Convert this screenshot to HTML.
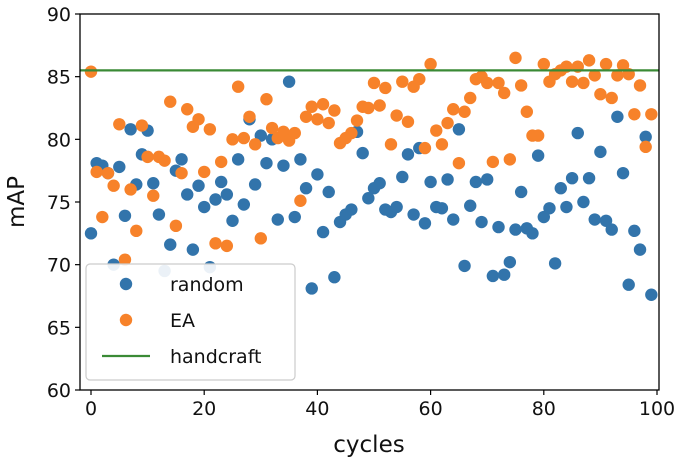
<!DOCTYPE html>
<html><head><meta charset="utf-8"><style>
body{margin:0;background:#fff}
svg text{font-family:"DejaVu Sans","Liberation Sans",sans-serif;fill:#111}
</style></head><body>
<svg id="chart" width="685" height="463" xmlns="http://www.w3.org/2000/svg">
<g id="plot"></g>
</svg>
<script>
const cycles=[...Array(100).keys()];
const randomVals=[72.5,78.1,77.9,77.3,70.0,77.8,73.9,80.8,76.4,78.8,80.7,76.5,74.0,69.5,71.6,77.5,78.4,75.6,71.2,76.3,74.6,69.8,75.2,76.6,75.6,73.5,78.4,74.8,81.6,76.4,80.3,78.1,80.0,73.6,77.9,84.6,73.8,78.4,76.1,68.1,77.2,72.6,75.8,69.0,73.4,74.0,74.4,80.6,78.9,75.3,76.1,76.5,74.4,74.2,74.6,77.0,78.8,74.0,79.3,73.3,76.6,74.6,74.5,76.8,73.6,80.8,69.9,74.7,76.6,73.4,76.8,69.1,73.0,69.2,70.2,72.8,75.8,72.9,72.5,78.7,73.8,74.5,70.1,76.1,74.6,76.9,80.5,75.0,76.9,73.6,79.0,73.5,72.8,81.8,77.3,68.4,72.7,71.2,80.2,67.6];
const eaVals=[85.4,77.4,73.8,77.3,76.3,81.2,70.4,76.0,72.7,81.1,78.6,75.5,78.6,78.3,83.0,73.1,77.3,82.4,81.0,81.6,77.4,80.8,71.7,78.2,71.5,80.0,84.2,80.1,81.8,79.6,72.1,83.2,80.9,80.1,80.6,79.9,80.5,75.1,81.8,82.6,81.6,82.8,81.3,82.3,79.7,80.1,80.5,81.5,82.6,82.5,84.5,82.7,84.1,79.6,81.9,84.6,81.4,84.2,84.8,79.3,86.0,80.7,79.6,81.3,82.4,78.1,82.2,83.3,84.8,85.0,84.5,78.2,84.5,83.7,78.4,86.5,84.3,82.2,80.3,80.3,86.0,84.6,85.2,85.5,85.8,84.6,85.8,84.5,86.3,85.1,83.6,86.0,83.3,85.1,85.9,85.2,82.0,84.3,79.4,82.0];
const handcraft=85.5;
const xTicks=[0,20,40,60,80,100];
const yTicks=[60,65,70,75,80,85,90];
const NS="http://www.w3.org/2000/svg";
const L=80,T=14,R=659,B=390;
const x=v=>91+(657-91)*v/100;
const y=v=>B-(B-T)*(v-60)/30;
const g=document.getElementById('plot');
function el(t,a,p){const e=document.createElementNS(NS,t);for(const k in a)e.setAttribute(k,a[k]);(p||g).appendChild(e);return e;}
cycles.forEach((c,i)=>{const e=el('circle',{cx:x(c),cy:y(randomVals[i]),r:6.2,fill:'#3274ab'});

});
cycles.forEach((c,i)=>{const e=el('circle',{cx:x(c),cy:y(eaVals[i]),r:6.2,fill:'#f7822a'});

});
const hl=el('line',{x1:L,x2:R,y1:y(handcraft),y2:y(handcraft),stroke:'#3a8a35','stroke-width':2.2});


const fr=el('rect',{x:L,y:T,width:R-L,height:B-T,fill:'none',stroke:'#000','stroke-width':1.3});


yTicks.forEach(v=>{el('line',{x1:L-5,x2:L,y1:y(v),y2:y(v),stroke:'#000','stroke-width':1.2});
const t=el('text',{x:L-9,y:y(v)+7,'text-anchor':'end','font-size':19});t.textContent=v;

});
xTicks.forEach(v=>{el('line',{x1:x(v),x2:x(v),y1:B,y2:B+5,stroke:'#000','stroke-width':1.2});
const t=el('text',{x:x(v),y:B+25,'text-anchor':'middle','font-size':19});t.textContent=v;

});
const xt=el('text',{x:369,y:452,'text-anchor':'middle','font-size':23});xt.textContent='cycles';


const yt=el('text',{x:0,y:0,'text-anchor':'middle','font-size':23,transform:'translate(24,202) rotate(-90)'});yt.textContent='mAP';


const lg=el('g',{});


el('rect',{x:86,y:264,width:209,height:116,rx:4,fill:'#fff','fill-opacity':0.9,stroke:'#ccc','stroke-width':1.2},lg);
const items=[['random','#3274ab','c'],['EA','#f7822a','c'],['handcraft','#3a8a35','l']];
items.forEach((it,i)=>{const cy=284+i*36;
if(it[2]==='c')el('circle',{cx:126,cy:cy,r:6.2,fill:it[1]},lg);
else el('line',{x1:102,x2:150,y1:cy,y2:cy,stroke:it[1],'stroke-width':2.2},lg);
const t=el('text',{x:170,y:cy+7,'font-size':19},lg);t.textContent=it[0];

});
</script>
</body></html>
